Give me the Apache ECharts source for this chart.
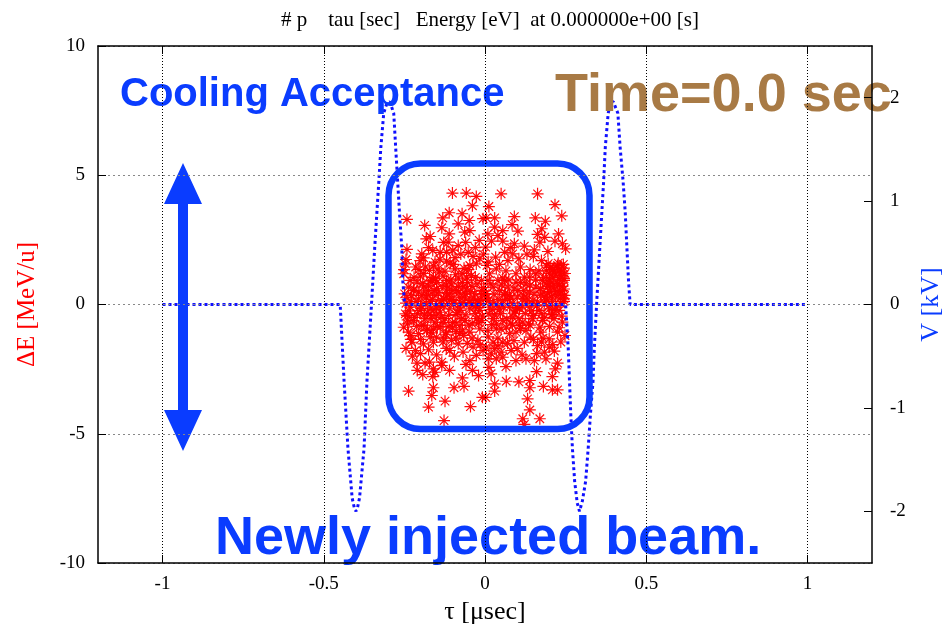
<!DOCTYPE html>
<html>
<head>
<meta charset="utf-8">
<script src="https://cdn.jsdelivr.net/npm/echarts@6/dist/echarts.min.js"></script>
<style>
  html, body { margin: 0; padding: 0; background: #fff; overflow: hidden; }
  #chart { width: 952px; height: 633px; }
</style>
</head>
<body>
<div id="chart"></div>
<script>
// tick labels
const tauTicks = [-1, -0.5, 0, 0.5, 1];
const voltTicks = [-2, -1, 0, 1, 2];

// RF voltage [kV] along tau [usec]
const voltageCurve = [
  [-1.0, 0], [-0.449, 0], [-0.437, -0.74], [-0.425, -1.39], [-0.412, -1.87], [-0.405, -1.97],
  [-0.400, -2.0], [-0.395, -1.96], [-0.389, -1.87], [-0.375, -1.39], [-0.366, -0.74], [-0.352, 0],
  [-0.342, 0.55], [-0.329, 1.2], [-0.323, 1.52], [-0.314, 1.85], [-0.305, 1.94], [-0.295, 1.96],
  [-0.283, 1.85], [-0.277, 1.52], [-0.271, 1.2], [-0.265, 0.88], [-0.258, 0.55], [-0.255, 0.23],
  [-0.249, 0], [0.250, 0], [0.258, -0.42], [0.266, -1.06], [0.271, -1.39], [0.278, -1.71],
  [0.286, -1.92], [0.293, -2.0], [0.302, -1.90], [0.312, -1.71], [0.320, -1.39], [0.327, -1.06],
  [0.335, -0.74], [0.339, -0.42], [0.346, 0], [0.356, 0.55], [0.368, 1.2], [0.373, 1.52],
  [0.382, 1.85], [0.390, 1.96], [0.398, 1.96], [0.412, 1.85], [0.419, 1.52], [0.428, 1.2],
  [0.435, 0.88], [0.440, 0.55], [0.445, 0.23], [0.450, 0], [1.0, 0]
];

// injected particles: [tau usec, dE MeV/u]
const beamPoints = [
  [-0.101,4.31],[-0.058,4.31],[-0.027,4.18],[-0.039,3.82],[-0.242,3.29],[-0.111,3.55],[-0.131,3.35],
  [-0.071,3.51],[-0.049,3.25],[-0.083,3.12],[-0.187,3.06],[-0.134,2.97],[-0.006,3.32],[-0.063,2.80],
  [-0.047,2.86],[-0.111,2.73],[-0.170,2.63],[-0.182,2.54],[-0.114,2.41],[-0.083,2.28],[-0.018,2.48],
  [-0.242,2.13],[-0.162,2.09],[-0.139,2.02],[-0.119,2.02],[-0.052,2.02],[-0.196,1.96],[-0.093,1.81],
  [-0.037,1.86],[-0.201,1.70],[-0.155,1.64],[-0.119,1.68],[-0.016,1.77],[-0.247,1.57],[-0.172,1.32],
  [-0.145,1.38],[-0.124,1.29],[-0.093,1.38],[-0.047,1.51],[-0.027,1.57],[-0.252,1.19],[-0.042,1.12],
  [-0.011,0.93],[-0.232,0.93],[-0.211,0.86],
  [-0.191,0.67],[-0.175,0.54],[-0.150,0.61],[-0.119,0.93],[-0.104,0.80],[-0.088,0.54],[-0.068,0.67],
  [-0.057,1.06],[-0.032,0.41],[-0.011,0.54],[-0.181,0.28],[-0.155,0.35],[-0.129,0.22],[-0.109,0.41],
  [-0.078,0.28],[-0.047,0.15],[-0.022,0.15],[-0.222,0.54],[-0.242,0.28],[-0.206,0.22],[-0.139,0.03],
  [-0.098,0.03],[-0.068,0.05],[-0.037,-0.02],[-0.016,0.03],[-0.165,0.93],[-0.083,0.99],
  [-0.245,1.74],[-0.251,1.35],[-0.238,0.67],[-0.249,0.41],
  [0.050,4.28],[0.163,4.28],[0.012,3.79],[0.217,3.86],[0.238,3.43],[0.091,3.40],[0.030,3.35],
  [0.004,3.35],[0.156,3.35],[0.187,3.22],[0.084,3.09],[0.030,2.99],[0.055,2.86],[0.102,2.84],
  [0.176,2.93],[0.163,2.71],[0.228,2.73],[0.009,2.73],[0.040,2.67],[0.055,2.45],[0.170,2.41],
  [0.217,2.45],[0.240,2.35],[0.250,2.15],[0.091,2.35],[0.122,2.26],[0.153,2.11],[0.002,2.22],
  [0.061,2.02],[0.033,1.83],[0.086,1.96],[0.105,1.77],[0.150,1.86],[0.071,1.70],[0.006,1.51],
  [0.035,1.38],[0.014,1.19],[0.055,1.03],[0.040,0.93],[0.096,1.19],[0.122,1.06],[0.158,1.19],[0.178,0.93],
  [0.204,1.44],[0.225,1.51],[0.245,1.41],[0.214,1.25],[0.235,1.12],[0.199,0.99],[0.245,0.93],
  [0.225,0.80],[0.204,0.67],[0.240,0.54],[0.194,0.41],[0.219,0.35],[0.245,0.22],[0.209,0.12],[0.235,0.05],
  [0.009,0.93],[0.025,0.67],[0.004,0.41],[0.045,0.54],[0.071,0.67],[0.076,0.35],[0.102,0.54],
  [0.127,0.80],[0.138,0.48],[0.158,0.67],[0.173,0.35],[0.117,0.22],[0.148,0.15],[0.055,0.15],
  [0.025,0.09],[0.086,0.05],[0.184,0.09],[0.061,0.93],[0.096,0.86],[0.138,1.06],
  [-0.242,-0.43],[-0.252,-0.88],[-0.216,-1.78],[-0.211,-2.27],[-0.186,-2.27],[-0.172,-2.23],
  [-0.134,-2.23],[-0.134,-2.36],[-0.193,-2.71],[-0.162,-2.79],[-0.155,-2.62],[-0.059,-2.32],
  [-0.039,-2.55],[-0.070,-2.84],[-0.237,-3.35],[-0.160,-3.22],[-0.096,-3.22],[-0.065,-3.17],
  [-0.165,-3.52],[-0.124,-3.74],[-0.175,-3.97],[-0.045,-3.95],[-0.008,-3.59],[-0.127,-4.49],
  [-0.078,-1.13],[-0.109,-1.78],[-0.068,-1.84],[-0.037,-1.65],[-0.027,-1.97],[-0.047,-2.17],[-0.160,-2.49],
  [-0.232,-0.10],[-0.201,-0.23],[-0.170,-0.17],[-0.139,-0.30],[-0.109,-0.17],[-0.078,-0.23],
  [-0.047,-0.17],[-0.016,-0.23],[-0.222,-0.62],[-0.186,-0.55],[-0.155,-0.68],[-0.124,-0.55],
  [-0.093,-0.68],[-0.062,-0.62],[-0.027,-0.55],[-0.237,-1.07],[-0.206,-1.13],[-0.181,-1.01],
  [-0.150,-1.26],[-0.119,-1.07],[-0.047,-1.07],[-0.016,-0.94],[-0.227,-1.46],[-0.191,-1.52],
  [-0.160,-1.46],[-0.104,-1.39],[-0.083,-1.52],[-0.022,-1.39],[-0.006,-1.78],[-0.139,-0.88],
  [-0.078,-0.81],[-0.247,-0.36],[-0.196,-0.81],[-0.165,-0.43],
  [0.248,-1.20],[0.002,-3.59],[0.066,-2.97],[0.105,-2.99],[0.139,-2.94],[0.139,-3.22],[0.030,-3.07],
  [0.030,-3.35],[0.181,-3.17],[0.209,-3.30],[0.225,-3.30],[0.209,-2.79],[0.225,-2.27],[0.218,-2.49],
  [0.132,-3.65],[0.139,-4.08],[0.170,-4.42],[0.117,-4.42],[0.122,-4.64],[0.019,-2.68],[0.012,-2.43],
  [0.096,-2.17],[0.127,-2.10],[0.153,-2.17],[0.055,-2.04],[0.035,-2.10],[0.189,-2.10],[0.199,-1.65],
  [0.184,-1.84],[0.081,-1.78],[0.050,-1.84],[0.019,-1.91],[0.025,-1.46],[0.030,-1.71],
  [0.014,-0.10],[0.045,-0.17],[0.076,-0.10],[0.107,-0.17],[0.138,-0.10],[0.168,-0.23],[0.199,-0.17],
  [0.230,-0.23],[0.025,-0.55],[0.055,-0.62],[0.086,-0.49],[0.117,-0.68],[0.148,-0.55],[0.178,-0.62],
  [0.214,-0.55],[0.240,-0.68],[0.009,-1.01],[0.035,-0.94],[0.096,-1.07],[0.127,-1.01],[0.142,-1.26],
  [0.122,-1.46],[0.163,-1.59],[0.199,-1.33],[0.055,-1.46],[0.004,-1.65],[0.076,-1.13],[0.173,-1.07],
  [0.225,-1.07],[0.066,-0.88],[0.107,-0.81],
  [-0.23,0.10],[-0.20,-0.05],[-0.17,0.12],[-0.14,-0.08],[-0.11,0.18],[-0.08,-0.10],[-0.05,0.08],
  [-0.02,-0.12],[0.01,0.15],[0.04,-0.06],[0.07,0.20],[0.10,-0.12],[0.13,0.10],[0.16,-0.05],
  [0.19,0.18],[0.22,-0.10],[0.245,0.12],
  [-0.21,-0.35],[-0.18,0.40],[-0.15,-0.40],[-0.12,0.45],[-0.09,-0.38],[-0.06,0.40],[-0.03,-0.35],
  [0.0,0.42],[0.03,-0.40],[0.06,0.38],[0.09,-0.33],[0.12,0.36],[0.15,-0.42],[0.18,0.48],[0.21,-0.38],[0.235,0.40],
  [-0.24,-0.75],[-0.19,-0.80],[-0.16,-0.95],[-0.13,-0.70],[-0.10,-0.90],[-0.07,-0.98],[-0.04,-0.75],
  [-0.01,-0.62],[0.02,-0.78],[0.05,-0.95],[0.08,-0.72],[0.11,-0.92],[0.14,-0.80],[0.17,-0.88],
  [0.20,-0.85],[0.23,-0.90],
  [-0.23,-1.20],[-0.20,-1.35],[-0.17,-1.25],[-0.13,-1.45],[-0.09,-1.30],[0.01,-1.25],[0.04,-1.30],
  [0.09,-1.40],[0.15,-1.35],[0.18,-1.30],[0.21,-1.55],
  [0.19,1.30],[0.21,1.05],[0.23,1.30],[0.245,1.00],[0.20,0.50],[0.215,0.60],[0.23,0.75],[0.245,0.60],
  [0.19,0.80],[0.225,1.45],[0.20,1.20],
  [-0.20,1.10],[-0.22,0.60],[-0.19,1.20],[-0.15,0.85],[-0.13,1.10],[-0.10,0.55],[-0.07,0.85],
  [-0.04,0.70],[-0.03,1.05],[-0.01,0.40],[-0.12,0.30],[-0.16,1.05],
  [-0.245,0.05],[-0.235,-0.25],[-0.228,0.35],[-0.218,-0.50],[-0.214,0.12],[-0.205,0.48],[-0.198,-0.15],
  [-0.193,0.82],[-0.188,-0.40],[-0.183,0.05],[-0.178,-0.95],[-0.176,0.72],[-0.168,-0.55],[-0.163,0.20],
  [-0.158,-0.20],[-0.153,1.00],[-0.148,-0.85],[-0.144,0.45],[-0.136,-0.50],[-0.133,0.70],[-0.127,-0.05],
  [-0.122,-1.15],[-0.117,0.60],[-0.113,-0.42],[-0.106,0.95],[-0.101,-0.70],[-0.096,0.15],[-0.091,1.15],
  [-0.086,-0.30],[-0.081,0.45],[-0.074,-0.55],[-0.071,1.20],[-0.064,0.30],[-0.059,-0.40],[-0.054,0.85],
  [-0.050,-0.80],[-0.044,0.50],[-0.040,-1.30],[-0.035,0.25],[-0.030,-0.05],[-0.025,0.80],[-0.020,-0.70],
  [-0.014,0.20],[-0.008,-0.45],[-0.004,0.65],
  [-0.240,-0.60],[-0.230,-1.35],[-0.220,1.05],[-0.212,-0.85],[-0.205,1.35],[-0.196,0.35],[-0.185,1.45],
  [-0.178,-0.30],[-0.170,0.90],[-0.165,-1.10],[-0.158,0.55],[-0.150,-0.10],[-0.142,1.25],[-0.135,0.15],
  [-0.128,-1.30],[-0.120,0.75],[-0.112,-0.85],[-0.105,0.20],[-0.098,1.55],[-0.090,-1.05],[-0.083,0.70],
  [-0.075,0.05],[-0.066,-1.20],[-0.058,0.60],[-0.052,1.35],
  [0.152,0.40],[0.157,0.95],[0.163,0.10],[0.167,1.30],[0.172,0.62],[0.176,-0.35],[0.181,1.05],
  [0.186,0.28],[0.190,1.50],[0.195,0.70],[0.198,-0.05],[0.202,0.90],[0.206,0.30],[0.210,1.35],
  [0.213,0.80],[0.217,-0.20],[0.220,1.15],[0.223,0.50],[0.227,1.60],[0.230,0.95],[0.233,0.25],
  [0.237,1.25],[0.240,0.70],[0.243,1.55],[0.247,0.35],[0.248,1.20],[0.196,1.58],[0.206,-0.40],
  [0.238,-0.45],[0.185,-0.50],
  [0.005,0.25],[0.012,-0.35],[0.018,0.80],[0.022,-0.20],[0.028,0.40],[0.035,-0.75],[0.040,0.20],
  [0.048,-0.35],[0.052,0.75],[0.058,-0.10],[0.063,0.45],[0.068,-0.55],[0.074,0.95],[0.080,0.25],
  [0.085,-0.80],[0.090,0.60],[0.094,-0.25],[0.100,0.30],[0.105,-0.55],[0.110,0.85],[0.115,-0.05],
  [0.120,0.55],[0.125,-0.35],[0.130,0.25],[0.135,-0.75],[0.140,0.75],[0.145,-0.25],
  [-0.215,1.45],[-0.190,1.80],[-0.175,2.20],[-0.160,1.50],[-0.140,1.75],[-0.128,2.40],[-0.108,1.60],
  [-0.100,2.10],[-0.075,1.95],[-0.065,1.40],[-0.060,2.40],[-0.030,2.20],[-0.005,1.95],[0.010,1.65],
  [0.020,2.45],[0.045,1.55],[0.065,1.30],[0.080,2.20],[0.110,1.45],[0.130,1.95],[0.140,1.35],
  [0.175,1.70],[0.195,2.05],[0.185,2.60],
  [-0.245,-1.70],[-0.225,-2.00],[-0.200,-1.90],[-0.175,-1.75],[-0.150,-1.95],[-0.120,-1.70],
  [-0.095,-2.00],[-0.055,-1.50],[-0.015,-1.55],[0.010,-2.10],[0.040,-1.60],[0.070,-1.50],
  [0.100,-1.70],[0.115,-1.95],[0.160,-1.90],[0.215,-1.80],[0.235,-1.45],[0.175,-1.45],
  [-0.210,-2.55],[-0.110,-2.55],[0.065,-2.40],[0.160,-2.60],[-0.020,-2.75]
];

const BLUE = "#0a3cff";
const SERIF = "Liberation Serif";
const SANS = "Liberation Sans";
// gnuplot-like asterisk
const ASTERISK = "path://M0,4.5L10,4.5L10,5.5L0,5.5Z M4.5,0L5.5,0L5.5,10L4.5,10Z M1.1,1.8L1.8,1.1L8.9,8.2L8.2,8.9Z M8.2,1.1L8.9,1.8L1.8,8.9L1.1,8.2Z";

let myChart = echarts.init(document.getElementById("chart"), null, { width: 952, height: 633 });

let option = {
  backgroundColor: "#fff",
  animation: false,
  title: {
    text: "# p    tau [sec]   Energy [eV]  at 0.000000e+00 [s]",
    left: 276,
    top: 5,
    textStyle: { fontFamily: SERIF, fontSize: 21, fontWeight: "normal", color: "#000" }
  },
  grid: { left: 98, right: 76, top: 46, bottom: 70 },
  xAxis: [
    {
      type: "value",
      position: "bottom",
      min: -1.2,
      max: 1.2,
      z: 10,
      name: "τ [μsec]",
      nameLocation: "middle",
      nameGap: 36,
      nameTextStyle: { fontFamily: SERIF, fontSize: 26, color: "#000" },
      axisLine: { onZero: false, lineStyle: { color: "#000", width: 1.5 } },
      axisTick: { inside: true, length: 8, customValues: tauTicks, lineStyle: { color: "#000" } },
      axisLabel: { customValues: tauTicks, margin: 12, fontFamily: SERIF, fontSize: 19, color: "#000" },
      splitLine: { show: true, lineStyle: { color: "#000", type: [1, 2], width: 1 } }
    },
    {
      type: "value",
      position: "top",
      min: -1.2,
      max: 1.2,
      z: 10,
      axisLine: { onZero: false, lineStyle: { color: "#000", width: 1.5 } },
      axisTick: { inside: true, length: 8, customValues: tauTicks, lineStyle: { color: "#000" } },
      axisLabel: { show: false },
      splitLine: { show: false }
    }
  ],
  yAxis: [
    {
      type: "value",
      position: "left",
      min: -10,
      max: 10,
      interval: 5,
      z: 10,
      name: "ΔE [MeV/u]",
      nameLocation: "middle",
      nameRotate: 90,
      nameGap: 58,
      nameTextStyle: { fontFamily: SERIF, fontSize: 25, color: "#ff0000" },
      axisLine: { onZero: false, lineStyle: { color: "#000", width: 1.5 } },
      axisTick: { inside: true, length: 8, lineStyle: { color: "#000" } },
      axisLabel: { margin: 13, fontFamily: SERIF, fontSize: 19, color: "#000" },
      splitLine: { show: true, lineStyle: { color: "#888", type: [2, 3], width: 1 } }
    },
    {
      type: "value",
      position: "right",
      min: -2.5,
      max: 2.5,
      z: 10,
      name: "V [kV]",
      nameLocation: "middle",
      nameRotate: 90,
      nameGap: 46,
      nameTextStyle: { fontFamily: SERIF, fontSize: 26, color: BLUE },
      axisLine: { onZero: false, lineStyle: { color: "#000", width: 1.5 } },
      axisTick: { inside: true, length: 8, customValues: voltTicks, lineStyle: { color: "#000" } },
      axisLabel: { customValues: voltTicks, margin: 18, fontFamily: SERIF, fontSize: 19, color: "#000" },
      splitLine: { show: false }
    }
  ],
  series: [
    {
      name: "beam",
      type: "scatter",
      xAxisIndex: 0,
      yAxisIndex: 0,
      symbol: ASTERISK,
      symbolSize: 12,
      z: 2,
      itemStyle: { color: "#ff0000", opacity: 0.95 },
      data: beamPoints
    },
    {
      name: "voltage",
      type: "line",
      xAxisIndex: 0,
      yAxisIndex: 1,
      showSymbol: false,
      symbol: "none",
      z: 3,
      lineStyle: { color: "#1010ff", width: 3, type: [3, 3] },
      data: voltageCurve
    }
  ],
  graphic: [
    {
      type: "rect",
      z: 5,
      shape: { x: 388.5, y: 163.5, width: 201, height: 265.5, r: 32 },
      style: { fill: "none", stroke: BLUE, lineWidth: 6.5 }
    },
    {
      type: "polygon",
      z: 5,
      shape: {
        points: [[183, 163], [202, 204], [188, 204], [188, 410], [202, 410], [183, 451],
                 [164, 410], [178, 410], [178, 204], [164, 204]]
      },
      style: { fill: BLUE }
    },
    {
      type: "text",
      z: 5,
      x: 120,
      y: 95,
      style: { text: "Cooling Acceptance", fill: BLUE, font: "bold 40px " + SANS, verticalAlign: "middle" }
    },
    {
      type: "text",
      z: 5,
      x: 555,
      y: 96,
      style: { text: "Time=0.0 sec", fill: "#a87a45", font: "bold 54px " + SANS, verticalAlign: "middle" }
    },
    {
      type: "text",
      z: 5,
      x: 215,
      y: 539,
      style: { text: "Newly injected beam.", fill: BLUE, font: "bold 54px " + SANS, verticalAlign: "middle" }
    }
  ]
};

myChart.setOption(option);
window.addEventListener("resize", () => {
  myChart.resize();
});
</script>
</body>
</html>
